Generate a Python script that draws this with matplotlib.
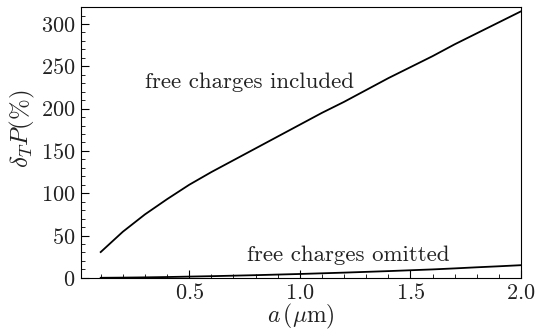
import matplotlib
matplotlib.use("Agg")
from matplotlib import pyplot as plt
from matplotlib.ticker import MultipleLocator

plt.rcParams['font.family'] = 'serif'
plt.rcParams['font.serif'] = ['cmr10']
plt.rcParams['mathtext.fontset'] = 'cm'
plt.rcParams['axes.formatter.use_mathtext'] = True

# grain size a (um) and relative change of the polarization
a_um = [0.1, 0.2, 0.3, 0.4, 0.5, 0.6, 0.7, 0.8, 0.9, 1.0,
        1.1, 1.2, 1.3, 1.4, 1.5, 1.6, 1.7, 1.8, 1.9, 2.0]
dP_included = [30.5, 54.5, 75, 93, 110, 125, 139, 153, 167, 181,
               195, 208, 222, 236, 249, 262, 276, 289, 302, 315]
dP_omitted = [0.1, 0.3, 0.6, 1.0, 1.5, 2.0, 2.6, 3.2, 3.9, 4.6,
              5.4, 6.2, 7.1, 8.0, 9.0, 10.0, 11.2, 12.5, 13.7, 15.0]

fig = plt.figure(figsize=(5.35, 3.36), dpi=100)
ax = fig.add_axes([0.151, 0.173, 0.823, 0.806])

ax.plot(a_um, dP_included, color='black', lw=1.3)
ax.plot(a_um, dP_omitted, color='black', lw=1.3)

ax.text(0.30, 231, 'free charges included', fontsize=16.5, va='center', ha='left',
        color='#222222')
ax.text(0.76, 27, 'free charges omitted', fontsize=16.5, va='center', ha='left',
        color='#222222')

ax.set_xlim(0.01, 2.0)
ax.set_ylim(0, 320)
ax.xaxis.set_major_locator(MultipleLocator(0.5))
ax.xaxis.set_minor_locator(MultipleLocator(0.1))
ax.yaxis.set_major_locator(MultipleLocator(50))
ax.yaxis.set_minor_locator(MultipleLocator(10))
ax.tick_params(which='both', direction='in', top=False, right=False, labelsize=16,
               labelcolor='#222222')
ax.tick_params(which='major', length=6, width=0.8, pad=4)
ax.tick_params(which='minor', length=3, width=0.6)

ax.set_xlabel(r'$a\,(\mu\mathrm{m})$', fontsize=17, labelpad=-1, color='#222222')
ax.set_ylabel(r'$\delta_T P(\%)$', fontsize=18, color='#222222')
ax.yaxis.set_label_coords(-0.10, 0.55)

plt.savefig('out.png', dpi=100)
